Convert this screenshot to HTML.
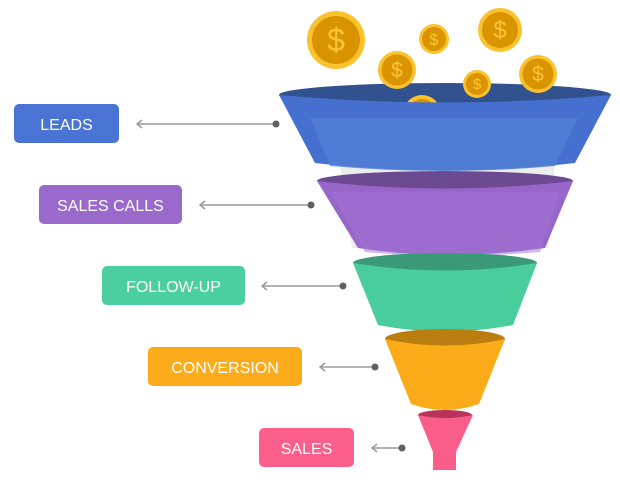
<!DOCTYPE html>
<html><head><meta charset="utf-8"><style>
html,body{margin:0;padding:0;background:#fff;width:620px;height:480px;overflow:hidden}
svg{display:block}
text{font-family:"Liberation Sans",sans-serif;font-weight:normal;fill:#fff}
</style></head><body>
<svg width="620" height="480" viewBox="0 0 620 480" xmlns="http://www.w3.org/2000/svg">
<!-- gray back shadow -->
<path d="M340 165 L555 165 L548 248 L352 248 Z" fill="#ececec"/>
<!-- blue top ellipse -->
<ellipse cx="445" cy="95" rx="166" ry="12" fill="#32528f"/>
<!-- coins -->
<g>
<circle cx="336" cy="40" r="29" fill="#fbc22f"/><circle cx="336" cy="40" r="24" fill="#d99400"/><text x="336" y="51" font-size="32" font-weight="bold" text-anchor="middle" style="fill:#fdc43a">$</text>
<circle cx="434" cy="39" r="15" fill="#fbc22f"/><circle cx="434" cy="39" r="12" fill="#d99400"/><text x="434" y="45" font-size="16" font-weight="bold" text-anchor="middle" style="fill:#fdc43a">$</text>
<circle cx="500" cy="30" r="22" fill="#fbc22f"/><circle cx="500" cy="30" r="18" fill="#d99400"/><text x="500" y="38" font-size="24" font-weight="bold" text-anchor="middle" style="fill:#fdc43a">$</text>
<clipPath id="c1"><rect x="0" y="0" width="620" height="106"/></clipPath>
<g clip-path="url(#c1)">
<circle cx="422" cy="114" r="19" fill="#fbc22f"/><circle cx="422" cy="114" r="15" fill="#d99400"/>
</g>
<circle cx="397" cy="70" r="19" fill="#fbc22f"/><circle cx="397" cy="70" r="15.5" fill="#d99400"/><text x="397" y="77" font-size="21" font-weight="bold" text-anchor="middle" style="fill:#fdc43a">$</text>
<circle cx="538" cy="74" r="19" fill="#fbc22f"/><circle cx="538" cy="74" r="15.5" fill="#d99400"/><text x="538" y="81" font-size="21" font-weight="bold" text-anchor="middle" style="fill:#fdc43a">$</text>
<circle cx="477" cy="84" r="14" fill="#fbc22f"/><circle cx="477" cy="84" r="11" fill="#d99400"/><text x="477" y="89" font-size="15" font-weight="bold" text-anchor="middle" style="fill:#fdc43a">$</text>
</g>
<!-- blue body -->
<path d="M279 95 Q445 110 611 95 L575 163 Q445 178 315 163 Z" fill="#4670cf"/>
<path d="M310 118 L578 118 L555 166 Q445 176 330 166 Z" fill="#5080d6" opacity="0.8"/>
<!-- purple -->
<ellipse cx="445" cy="181" rx="128" ry="10" fill="#6c4a92"/>
<path d="M317 181 Q445 196 573 181 L545 248 Q445 262 358 248 Z" fill="#9866cb"/>
<path d="M330 192 L560 192 L540 252 Q445 260 365 252 Z" fill="#a074d2" opacity="0.5"/>
<!-- green -->
<ellipse cx="445" cy="263" rx="92" ry="10" fill="#3a9a78"/>
<path d="M353 263 Q445 278 537 263 L513 325 Q445 338 378 325 Z" fill="#49cd9c"/>
<!-- orange -->
<ellipse cx="445" cy="339" rx="60" ry="10" fill="#b97d10"/>
<path d="M385 339 Q445 352 505 339 L479 404 Q445 416 411 404 Z" fill="#fbaa18"/>
<!-- pink -->
<ellipse cx="445" cy="415" rx="27" ry="5" fill="#b8325a"/>
<path d="M418 415 Q445 421 473 415 L456 452 L456 470 L433 470 L433 452 Z" fill="#fb5d8b"/>
<!-- connectors -->
<g stroke="#9a9a9a" stroke-width="1.5" fill="none">
<line x1="137" y1="124" x2="276" y2="124"/><polyline points="142,120 137,124 142,128"/>
<line x1="200" y1="205" x2="311" y2="205"/><polyline points="205,201 200,205 205,209"/>
<line x1="262" y1="286" x2="343" y2="286"/><polyline points="267,282 262,286 267,290"/>
<line x1="320" y1="367" x2="375" y2="367"/><polyline points="325,363 320,367 325,371"/>
<line x1="372" y1="448" x2="402" y2="448"/><polyline points="377,444 372,448 377,452"/>
</g>
<g fill="#606060">
<circle cx="276" cy="124" r="3.5"/><circle cx="311" cy="205" r="3.5"/><circle cx="343" cy="286" r="3.5"/><circle cx="375" cy="367" r="3.5"/><circle cx="402" cy="448" r="3.5"/>
</g>
<!-- labels -->
<rect x="14" y="104" width="105" height="39" rx="5" fill="#4a74d4"/>
<text x="66.5" y="130" font-size="16" text-anchor="middle">LEADS</text>
<rect x="39" y="185" width="143" height="39" rx="5" fill="#9a69cc"/>
<text x="110.5" y="211" font-size="16" text-anchor="middle">SALES CALLS</text>
<rect x="102" y="266" width="143" height="39" rx="5" fill="#4ccf9e"/>
<text x="173.5" y="292" font-size="16" text-anchor="middle">FOLLOW-UP</text>
<rect x="148" y="347" width="154" height="39" rx="5" fill="#fcab1b"/>
<text x="225" y="373" font-size="16" text-anchor="middle">CONVERSION</text>
<rect x="259" y="428" width="95" height="39" rx="5" fill="#fd5f8c"/>
<text x="306.5" y="454" font-size="16" text-anchor="middle">SALES</text>
</svg>
</body></html>
